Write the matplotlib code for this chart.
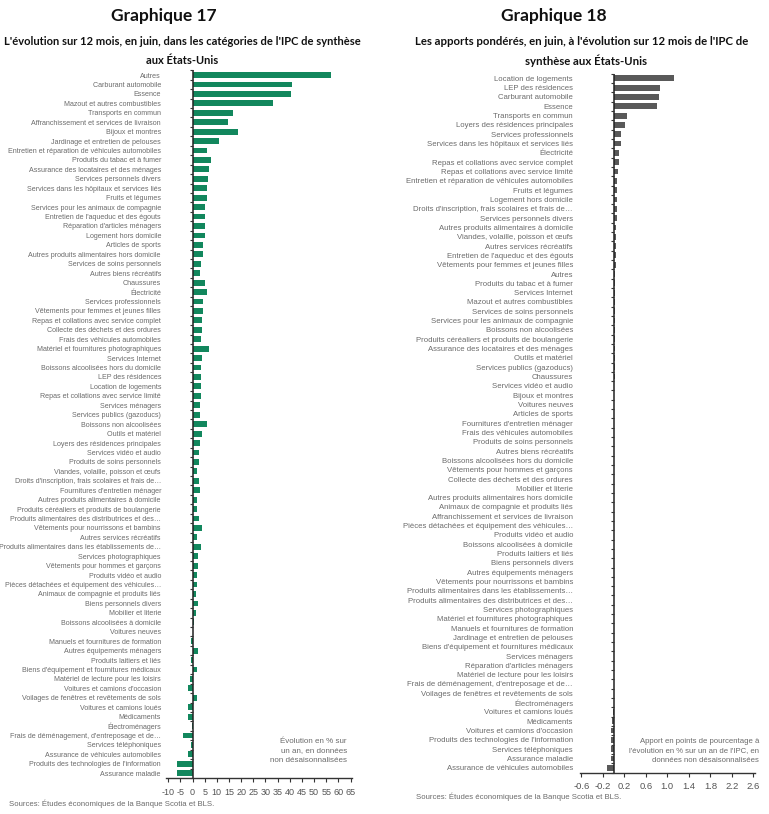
import matplotlib
matplotlib.use("Agg")
import matplotlib.pyplot as plt
import numpy as np

# ---------------- Data ----------------
left_categories = [
    "Autres", "Carburant automobile", "Essence", "Mazout et autres combustibles",
    "Transports en commun", "Affranchissement et services de livraison", "Bijoux et montres",
    "Jardinage et entretien de pelouses", "Entretien et réparation de véhicules automobiles",
    "Produits du tabac et à fumer", "Assurance des locataires et des ménages",
    "Services personnels divers", "Services dans les hôpitaux et services liés",
    "Fruits et légumes", "Services pour les animaux de compagnie",
    "Entretien de l'aqueduc et des égouts", "Réparation d'articles ménagers",
    "Logement hors domicile", "Articles de sports", "Autres produits alimentaires hors domicile",
    "Services de soins personnels", "Autres biens récréatifs", "Chaussures", "Électricité",
    "Services professionnels", "Vêtements pour femmes et jeunes filles",
    "Repas et collations avec service complet", "Collecte des déchets et des ordures",
    "Frais des véhicules automobiles", "Matériel et fournitures photographiques",
    "Services Internet", "Boissons alcoolisées hors du domicile", "LEP des résidences",
    "Location de logements", "Repas et collations avec service limité", "Services ménagers",
    "Services publics (gazoducs)", "Boissons non alcoolisées", "Outils et matériel",
    "Loyers des résidences principales", "Services vidéo et audio",
    "Produits de soins personnels", "Viandes, volaille, poisson et œufs",
    "Droits d'inscription, frais scolaires et frais de…", "Fournitures d'entretien ménager",
    "Autres produits alimentaires à domicile", "Produits céréaliers et produits de boulangerie",
    "Produits alimentaires des distributrices et des…", "Vêtements pour nourrissons et bambins",
    "Autres services récréatifs", "Produits alimentaires dans les établissements de…",
    "Services photographiques", "Vêtements pour hommes et garçons", "Produits vidéo et audio",
    "Pièces détachées et équipement des véhicules…", "Animaux de compagnie et produits liés",
    "Biens personnels divers", "Mobilier et literie", "Boissons alcoolisées à domicile",
    "Voitures neuves", "Manuels et fournitures de formation", "Autres équipements ménagers",
    "Produits laitiers et liés", "Biens d'équipement et fournitures médicaux",
    "Matériel de lecture pour les loisirs", "Voitures et camions d'occasion",
    "Voilages de fenêtres et revêtements de sols", "Voitures et camions loués",
    "Médicaments", "Électroménagers", "Frais de déménagement, d'entreposage et de…",
    "Services téléphoniques", "Assurance de véhicules automobiles",
    "Produits des technologies de l'information", "Assurance maladie",
]
left_values = [
    57.0, 41.0, 40.5, 33.0, 16.6, 14.7, 18.7, 10.8, 6.0, 7.7, 6.9, 6.5, 5.8, 6.1, 5.0,
    5.0, 5.0, 5.3, 4.5, 4.5, 3.6, 3.1, 5.1, 6.0, 4.5, 4.2, 3.9, 3.9, 3.5, 6.9,
    3.8, 3.5, 3.4, 3.4, 3.4, 3.1, 3.0, 5.8, 3.8, 3.0, 2.5, 2.6, 1.7, 2.6, 3.0,
    2.0, 1.9, 2.5, 3.9, 2.0, 3.5, 2.4, 2.1, 2.0, 2.0, 1.4, 2.4, 1.3, 0.6, 0.1,
    -0.8, 2.3, -0.8, 1.9, -1.2, -1.8, 2.0, -1.8, -2.0, -0.1, -3.9, -0.8, -1.8, -6.3, -6.5,
]

right_categories = [
    "Location de logements", "LEP des résidences", "Carburant automobile", "Essence",
    "Transports en commun", "Loyers des résidences principales", "Services professionnels",
    "Services dans les hôpitaux et services liés", "Électricité",
    "Repas et collations avec service complet", "Repas et collations avec service limité",
    "Entretien et réparation de véhicules automobiles", "Fruits et légumes",
    "Logement hors domicile", "Droits d'inscription, frais scolaires et frais de…",
    "Services personnels divers", "Autres produits alimentaires à domicile",
    "Viandes, volaille, poisson et œufs", "Autres services récréatifs",
    "Entretien de l'aqueduc et des égouts", "Vêtements pour femmes et jeunes filles",
    "Autres", "Produits du tabac et à fumer", "Services Internet",
    "Mazout et autres combustibles", "Services de soins personnels",
    "Services pour les animaux de compagnie", "Boissons non alcoolisées",
    "Produits céréaliers et produits de boulangerie", "Assurance des locataires et des ménages",
    "Outils et matériel", "Services publics (gazoducs)", "Chaussures",
    "Services vidéo et audio", "Bijoux et montres", "Voitures neuves", "Articles de sports",
    "Fournitures d'entretien ménager", "Frais des véhicules automobiles",
    "Produits de soins personnels", "Autres biens récréatifs",
    "Boissons alcoolisées hors du domicile", "Vêtements pour hommes et garçons",
    "Collecte des déchets et des ordures", "Mobilier et literie",
    "Autres produits alimentaires hors domicile", "Animaux de compagnie et produits liés",
    "Affranchissement et services de livraison", "Pièces détachées et équipement des véhicules…",
    "Produits vidéo et audio", "Boissons alcoolisées à domicile", "Produits laitiers et liés",
    "Biens personnels divers", "Autres équipements ménagers",
    "Vêtements pour nourrissons et bambins", "Produits alimentaires dans les établissements…",
    "Produits alimentaires des distributrices et des…", "Services photographiques",
    "Matériel et fournitures photographiques", "Manuels et fournitures de formation",
    "Jardinage et entretien de pelouses", "Biens d'équipement et fournitures médicaux",
    "Services ménagers", "Réparation d'articles ménagers",
    "Matériel de lecture pour les loisirs", "Frais de déménagement, d'entreposage et de…",
    "Voilages de fenêtres et revêtements de sols", "Électroménagers",
    "Voitures et camions loués", "Médicaments", "Voitures et camions d'occasion",
    "Produits des technologies de l'information", "Services téléphoniques",
    "Assurance maladie", "Assurance de véhicules automobiles",
]
right_values = [
    1.12, 0.87, 0.84, 0.80, 0.245, 0.21, 0.14, 0.13, 0.10, 0.10, 0.09, 0.07, 0.07,
    0.07, 0.06, 0.06, 0.055, 0.05, 0.04, 0.04, 0.04, 0.035, 0.035, 0.03, 0.03, 0.03,
    0.025, 0.025, 0.02, 0.02, 0.02, 0.02, 0.02, 0.015, 0.015, 0.015, 0.015, 0.012,
    0.012, 0.012, 0.01, 0.01, 0.01, 0.01, 0.01, 0.008, 0.008, 0.008, 0.007, 0.006,
    0.006, 0.005, 0.005, 0.005, 0.004, 0.004, 0.003, 0.003, 0.002, 0.002, 0.002,
    0.002, 0.001, 0.001, 0.001, 0.0, 0.0, 0.0, -0.003, -0.03, -0.04, -0.04, -0.05,
    -0.05, -0.12,
]

left_ticks = list(range(-10, 70, 5))
right_ticks = [-0.6, -0.2, 0.2, 0.6, 1.0, 1.4, 1.8, 2.2, 2.6]

# ---------------- Style ----------------
W, H = 769, 814
LABEL_FONT = ["Liberation Sans", "DejaVu Sans"]
TITLE_FONT = ["Lato", "Open Sans", "DejaVu Sans"]
GREEN = "#12875d"
GREY_BAR = "#595959"
LABEL_COLOR = "#6b6b6b"

fig = plt.figure(figsize=(W / 100, H / 100), dpi=100)
fig.patch.set_facecolor("white")


def fx(px):
    return px / W


def fy(py):
    return 1 - py / H


def make_panel(rect, cats, vals, color, xlim, ticks, tick_labels, label_pad, label_size,
               tick_size, tick_pad):
    ax = fig.add_axes(rect)
    y = np.arange(len(cats))
    ax.barh(y, vals, height=0.62, color=color, edgecolor="none", zorder=2)
    ax.set_ylim(len(cats) - 0.5, -0.5)
    ax.set_xlim(*xlim)
    ax.set_yticks(y)
    ax.set_yticklabels(cats, fontsize=label_size, color=LABEL_COLOR, family=LABEL_FONT)
    ax.tick_params(axis="y", length=0, pad=label_pad)
    ax.set_xticks(ticks)
    ax.set_xticklabels(tick_labels, fontsize=tick_size, color="#555555", family=LABEL_FONT)
    ax.tick_params(axis="x", length=3, width=0.8, color="#333333", pad=tick_pad)
    for s in ["left", "right", "top"]:
        ax.spines[s].set_visible(False)
    ax.spines["bottom"].set_color("#333333")
    ax.spines["bottom"].set_linewidth(1.0)
    ax.axvline(0, color="#222222", lw=1.1, zorder=3)
    # small tick marks on the zero line at category boundaries
    bounds = np.arange(len(cats) + 1) - 0.5
    ax.scatter(np.zeros_like(bounds), bounds, marker=0, s=6, color="#333333",
               linewidths=0.8, zorder=4, clip_on=False)
    ax.set_facecolor("white")
    return ax


# Left panel
axL = make_panel([fx(166), fy(778), fx(352) - fx(166), fy(70.3) - fy(778)],
                 left_categories, left_values, GREEN, (-10.9, 65.6),
                 left_ticks, [str(t) for t in left_ticks], 3.6, 5.15, 6.5, 4.0)

# Right panel
axR = make_panel([fx(580), fy(772.5), fx(755) - fx(580), fy(73.7) - fy(772.5)],
                 right_categories, right_values, GREY_BAR, (-0.623, 2.63),
                 right_ticks, [f"{t:.1f}" for t in right_ticks], 5.0, 5.6, 6.8, 3.5)

# Titles
TCOL = "#111111"
fig.text(fx(164), fy(16), "Graphique 17", ha="center", va="center",
         fontsize=12.5, fontweight="bold", family=TITLE_FONT, color=TCOL)
fig.text(fx(182), fy(41.5), "L'évolution sur 12 mois, en juin, dans les catégories de l'IPC de synthèse",
         ha="center", va="center", fontsize=8.0, fontweight="bold", family=TITLE_FONT, color=TCOL)
fig.text(fx(182), fy(61), "aux États-Unis",
         ha="center", va="center", fontsize=8.0, fontweight="bold", family=TITLE_FONT, color=TCOL)

fig.text(fx(554), fy(16), "Graphique 18", ha="center", va="center",
         fontsize=12.5, fontweight="bold", family=TITLE_FONT, color=TCOL)
fig.text(fx(582), fy(41.5), "Les apports pondérés, en juin, à l'évolution sur 12 mois de l'IPC de",
         ha="center", va="center", fontsize=8.2, fontweight="bold", family=TITLE_FONT, color=TCOL)
fig.text(fx(586), fy(61), "synthèse aux États-Unis",
         ha="center", va="center", fontsize=8.2, fontweight="bold", family=TITLE_FONT, color=TCOL)

# Notes
fig.text(fx(347), fy(751), "Évolution en % sur\nun an, en données\nnon désaisonnalisées",
         ha="right", va="center", fontsize=5.8, color=LABEL_COLOR, family=LABEL_FONT,
         linespacing=1.45)
fig.text(fx(759), fy(751), "Apport en points de pourcentage à\nl'évolution en % sur un an de l'IPC, en\ndonnées non désaisonnalisées",
         ha="right", va="center", fontsize=5.6, color=LABEL_COLOR, family=LABEL_FONT,
         linespacing=1.45)

# Sources
fig.text(fx(9), fy(804), "Sources: Études économiques de la Banque Scotia et BLS.",
         ha="left", va="center", fontsize=5.6, color=LABEL_COLOR, family=LABEL_FONT)
fig.text(fx(416), fy(797), "Sources: Études économiques de la Banque Scotia et BLS.",
         ha="left", va="center", fontsize=5.6, color=LABEL_COLOR, family=LABEL_FONT)

fig.savefig("out.png", dpi=100, facecolor="white")
